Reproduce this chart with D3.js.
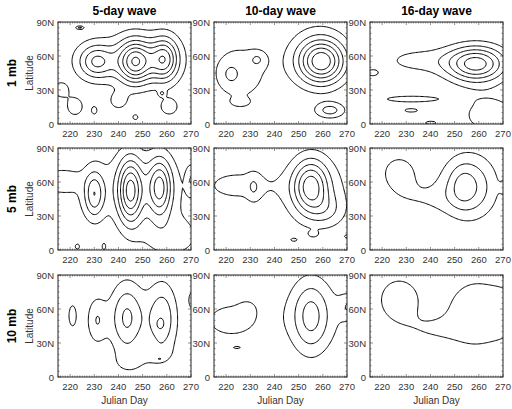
<!DOCTYPE html>
<html>
<head>
<meta charset="utf-8">
<script src="https://cdn.jsdelivr.net/npm/d3@7"></script>
<style>
  body { margin: 0; background: #fff; }
  svg { display: block; font-family: "Liberation Sans", Arial, sans-serif; }
</style>
</head>
<body>
<svg id="chart" width="512" height="409"></svg>
<script>
// column / row categories
var waves = ["5-day wave", "10-day wave", "16-day wave"];
var pressures = ["1 mb", "5 mb", "10 mb"];
var dayTicks = [220, 230, 240, 250, 260, 270];
var latTicks = [0, 30, 60, 90];
var latLabels = ["0", "30N", "60N", "90N"];
var contourLevels = [1, 2, 3, 4, 5, 6, 7, 8];

// amplitude centres: [day, lat, amplitude, spread day, spread lat]
var wave5_1mb = [[245, 57, 1.2, 20, 20], [231, 55, 3.4, 5, 10], [247, 55, 6.0, 5, 13], [259, 57, 4.8, 4, 13],
  [222, 15, 1.5, 3, 7], [230, 12, 1.6, 1, 3], [247, 6, 1.6, 1, 2], [258, 27, 1.5, 1, 2],
  [261, 15, 1.6, 3, 6], [240, 20, 1.3, 3, 6], [216, 30, 1.3, 3, 6], [224, 85, 2.1, 1.2, 1]];
var wave10_1mb = [[259.5, 55, 5.6, 6.5, 13], [258, 60, 1.4, 10, 22], [225, 45, 1.5, 10, 22],
  [233, 57, 1.2, 2.5, 5], [222, 44, 1.2, 2, 5], [226, 19, 0.8, 3, 3], [263, 12, 2.3, 4.5, 5]];
var wave16_1mb = [[259, 53, 5.5, 8.5, 11], [235, 56, 1.3, 12, 9], [216, 45, 1.2, 2.5, 3],
  [232, 22, 1.4, 12, 3], [232, 12, 1.3, 3.5, 2], [240, 1, 1.2, 3, 2], [265, 8, 1.5, 10, 14]];
var wave5_5mb = [[230, 49, 3.0, 2.8, 14], [245, 52, 5.3, 3.6, 20], [257, 55, 4.5, 3.5, 18], [245, 55, 1.3, 22, 25],
  [262, 10, 1.3, 10, 15], [215, 61, 1.3, 6, 7], [223, 3, 1.6, 0.8, 2], [234, 3, 1.6, 0.6, 2.5], [270, 62, 1.4, 1.5, 9]];
var wave10_5mb = [[255, 56, 4.5, 5, 16], [262, 35, 1.2, 5, 10], [257, 52, 1.3, 12, 25], [224, 57, 1.3, 12, 12],
  [231.5, 55, 1.0, 2, 9], [248, 9, 1.1, 1.5, 1.5], [256, 14, 1.1, 1.5, 2], [270, 12, 1.1, 1.2, 1.5]];
var wave16_5mb = [[227, 68, 1.35, 7, 15], [238, 45, 0.8, 10, 10], [256, 56, 3.0, 8, 20], [253, 57, 0.8, 3.5, 12],
  [271, 55, 1.0, 1.5, 5]];
var wave5_10mb = [[243.5, 52, 3.2, 5, 22], [258, 51, 2.8, 4.5, 23], [257, 46, 0.5, 1.5, 4], [231, 50, 1.9, 3, 15],
  [245, 12, 0.8, 6, 8], [256, 20, 0.5, 5, 6], [221, 54, 1.3, 2, 12], [271, 68, 1.4, 2, 9], [257, 16, 1.05, 0.6, 0.5]];
var wave10_10mb = [[255, 53, 2.2, 5, 22], [256, 55, 1.3, 11, 25], [271, 62, 1.6, 3, 8], [222, 50, 1.4, 10, 14],
  [229, 62, 0.5, 3, 6], [224.5, 26, 1.05, 1.5, 1]];
var wave16_10mb = [[227, 68, 1.7, 7, 16], [240, 42, 0.8, 9, 9], [259, 56, 1.8, 10, 24], [272, 57, 0.7, 5, 20]];

var panels = [
  [wave5_1mb, wave10_1mb, wave16_1mb],
  [wave5_5mb, wave10_5mb, wave16_5mb],
  [wave5_10mb, wave10_10mb, wave16_10mb]
];

var svg = d3.select("#chart");
var colLeft = [58, 214, 370], rowTop = [22, 148, 275];
var pw = 133, ph = 102;

// grid a bit larger than the panel so contours never run along the frame
var d0 = 205, d1 = 280, dStep = 0.5, l0 = -10, l1 = 100;
var nx = Math.round((d1 - d0) / dStep) + 1, ny = l1 - l0 + 1;

function field(blobs) {
  var vals = new Array(nx * ny);
  for (var j = 0; j < ny; j++) {
    var lat = l0 + j;
    for (var i = 0; i < nx; i++) {
      var day = d0 + i * dStep, v = 0;
      blobs.forEach(function (b) {
        var dx = (day - b[0]) / b[3], dy = (lat - b[1]) / b[4];
        v += b[2] * Math.exp(-(dx * dx + dy * dy) / 2);
      });
      vals[j * nx + i] = v;
    }
  }
  return vals;
}

svg.append("defs");

pressures.forEach(function (p, r) {
  waves.forEach(function (w, c) {
    var x = d3.scaleLinear().domain([215, 270]).range([colLeft[c], colLeft[c] + pw]);
    var y = d3.scaleLinear().domain([0, 90]).range([rowTop[r] + ph, rowTop[r]]);
    var id = "clip" + r + c;
    svg.select("defs").append("clipPath").attr("id", id)
      .append("rect").attr("x", colLeft[c]).attr("y", rowTop[r]).attr("width", pw).attr("height", ph);

    var proj = d3.geoTransform({
      point: function (gx, gy) {
        this.stream.point(x(d0 + (gx - 0.5) * dStep), y(l0 + (gy - 0.5)));
      }
    });
    var path = d3.geoPath(proj);
    var contours = d3.contours().size([nx, ny]).thresholds(contourLevels)(field(panels[r][c]));

    svg.append("g").attr("clip-path", "url(#" + id + ")")
      .selectAll("path").data(contours).enter().append("path")
      .attr("d", path)
      .attr("fill", "none")
      .attr("stroke", "#000")
      .attr("stroke-width", 1);

    var g = svg.append("g");
    // minor ticks on all four sides
    d3.range(215, 271, 1).forEach(function (d) {
      var len = d % 10 === 0 ? 3 : 1.5;
      g.append("line").attr("x1", x(d)).attr("x2", x(d)).attr("y1", rowTop[r]).attr("y2", rowTop[r] + len);
      g.append("line").attr("x1", x(d)).attr("x2", x(d)).attr("y1", rowTop[r] + ph).attr("y2", rowTop[r] + ph - len);
    });
    d3.range(0, 91, 5).forEach(function (l) {
      var len = l % 30 === 0 ? 3 : 1.5;
      g.append("line").attr("x1", colLeft[c]).attr("x2", colLeft[c] + len).attr("y1", y(l)).attr("y2", y(l));
      g.append("line").attr("x1", colLeft[c] + pw).attr("x2", colLeft[c] + pw - len).attr("y1", y(l)).attr("y2", y(l));
    });
    g.selectAll("line").attr("stroke", "#444").attr("stroke-width", 0.6);

    g.append("rect").attr("x", colLeft[c]).attr("y", rowTop[r]).attr("width", pw).attr("height", ph)
      .attr("fill", "none").attr("stroke", "#222").attr("stroke-width", 1);

    g.selectAll(".xt").data(dayTicks).enter().append("text")
      .attr("x", function (d) { return x(d); }).attr("y", rowTop[r] + ph + 13)
      .attr("text-anchor", "middle").attr("font-size", "9.5px").attr("fill", "#333")
      .text(function (d) { return d; });
    g.selectAll(".yt").data(latTicks).enter().append("text")
      .attr("x", colLeft[c] - 4).attr("y", function (d) { return y(d) + 3.5; })
      .attr("text-anchor", "end").attr("font-size", "9.5px").attr("fill", "#333")
      .text(function (d, i) { return latLabels[i]; });

    if (r === 0) {
      svg.append("text").attr("x", colLeft[c] + pw / 2).attr("y", 15)
        .attr("text-anchor", "middle").attr("font-size", "12px").attr("font-weight", "bold")
        .text(w);
    }
    if (r === 2) {
      svg.append("text").attr("x", colLeft[c] + pw / 2).attr("y", 404)
        .attr("text-anchor", "middle").attr("font-size", "10px").attr("fill", "#333")
        .text("Julian Day");
    }
    if (c === 0) {
      svg.append("text").attr("transform", "translate(33," + (rowTop[r] + ph / 2) + ") rotate(-90)")
        .attr("text-anchor", "middle").attr("font-size", "10px").attr("fill", "#333")
        .text("Latitude");
      svg.append("text").attr("transform", "translate(16," + (rowTop[r] + ph / 2) + ") rotate(-90)")
        .attr("text-anchor", "middle").attr("font-size", "12px").attr("font-weight", "bold")
        .text(p);
    }
  });
});
</script>
</body>
</html>
